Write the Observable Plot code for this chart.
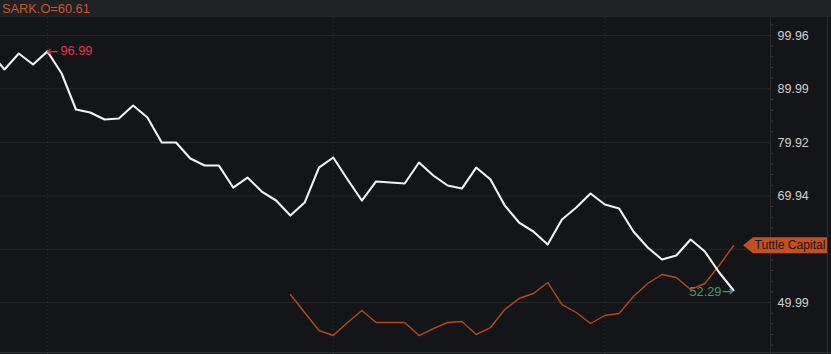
<!DOCTYPE html>
<html>
<head>
<meta charset="utf-8">
<script src="https://cdn.jsdelivr.net/npm/d3@7"></script>
<script src="https://cdn.jsdelivr.net/npm/@observablehq/plot@0.6"></script>
<style>
  html, body { margin: 0; padding: 0; background: #141519; width: 831px; height: 354px; overflow: hidden; }
  #wrap { position: relative; width: 831px; height: 354px; font-family: "Liberation Sans", Arial, sans-serif; }
  #head { height: 16px; background: #202125; border-bottom: 1px solid #26282c; color: #c8572a; font-size: 12.8px; line-height: 17px; padding-left: 2px; white-space: nowrap; }
  #chart svg { display: block; }
</style>
</head>
<body>
<div id="wrap">
  <div id="head"></div>
  <div id="chart"></div>
</div>
<script>
// ---- data ----
const seriesMain = "ARK";
const seriesComp = "Tuttle Capital";
const compTicker = "SARK.O";
// ARK values, one per trading day, first value is the day just before the visible window
const arkValues = [96.8, 93.60, 96.59, 94.53, 96.99, 92.85, 86.11, 85.55, 84.24, 84.43, 86.86,
  84.61, 79.93, 79.93, 76.93, 75.62, 75.62, 71.51, 73.38, 70.76, 69.08,
  66.27, 68.70, 75.25, 77.13, 73.01, 69.08, 72.64, 72.45, 72.26, 76.19,
  73.76, 71.89, 71.32, 75.25, 73.01, 68.14, 64.96, 63.28, 60.84, 65.52,
  67.77, 70.39, 68.33, 67.58, 63.28, 60.28, 58.04, 58.78, 61.78, 59.53,
  55.60, 52.29];
// Tuttle Capital (SARK) values, starting at day index 20
const sarkStartDay = 20;
const sarkValues = [51.49, 48.12, 44.75, 43.81, 46.25, 48.49, 46.25, 46.25, 46.25, 43.81,
  45.12, 46.25, 46.43, 44.00, 45.31, 48.68, 50.74, 51.68, 53.74, 49.61,
  48.12, 46.06, 47.56, 47.93, 51.11, 53.55, 55.23, 54.67, 52.42, 53.55,
  56.91, 60.61];
const sarkLast = 60.61;
const yTickValues = [99.96, 89.99, 79.92, 69.94, 49.99];
const yGridValues = [99.96, 89.99, 79.92, 69.94, 59.96, 49.99];
const monthStartDays = [3, 23, 42];
const yDomain = [40.26, 103.33];
const xDomain = [-0.28, 53.59];

// ---- build tables ----
const ark = arkValues.map((v, k) => ({day: k - 1, value: v}));
const sark = sarkValues.map((v, k) => ({day: sarkStartDay + k, value: v}));
const peak = ark.filter(d => d.day >= 0).reduce((a, b) => (b.value > a.value ? b : a));
const last = ark[ark.length - 1];
const minorTicks = [];
for (let i = 0; i < yGridValues.length - 1; i++) {
  const a = yGridValues[i], b = yGridValues[i + 1];
  for (let j = 1; j < 5; j++) minorTicks.push(a + (b - a) * j / 5);
}
minorTicks.push(yGridValues[0] + (yGridValues[0] - yGridValues[1]) / 5);
for (let j = 1; j < 5; j++) minorTicks.push(yGridValues[5] - (yGridValues[4] - yGridValues[5]) * j / 5);

document.getElementById("head").textContent = compTicker + "=" + sarkLast.toFixed(2);

const W = 831, H = 337, MR = 61;
const orange = "#b9461d";
const FONT = "Liberation Sans, Arial, sans-serif";
const ARROWFONT = "DejaVu Sans, sans-serif";

function decorations(index, scales, values, dimensions) {
  const ns = "http://www.w3.org/2000/svg";
  const g = document.createElementNS(ns, "g");
  const w = (dimensions && dimensions.width) || W, h = (dimensions && dimensions.height) || H;
  const mr = (dimensions && dimensions.marginRight != null) ? dimensions.marginRight : MR;
  const ax = w - mr;
  const add = (tag, attrs, text) => {
    const el = document.createElementNS(ns, tag);
    for (const k in attrs) el.setAttribute(k, attrs[k]);
    if (text != null) el.textContent = text;
    g.appendChild(el);
    return el;
  };
  add("line", {x1: ax + 0.5, x2: ax + 0.5, y1: 0, y2: h, stroke: "#2b2d31"});
  add("line", {x1: w - 3.5, x2: w - 3.5, y1: 0, y2: h, stroke: "#2b2d31"});
  add("line", {x1: 0, x2: w, y1: h - 1.5, y2: h - 1.5, stroke: "#2b2d31"});
  // comparison tag
  const y = scales && scales.y ? scales.y(sarkLast) : 228;
  const tip = ax - 27, left = ax - 17, right = w - 4;
  add("path", {d: `M${tip},${y}L${left},${y - 8}H${right}V${y + 8}H${left}Z`, fill: "#c2511f"});
  add("text", {x: left + 1.5, y: y, dy: "0.35em", fill: "#16171a", "font-size": 12,
    "text-anchor": "start", "font-family": FONT, textLength: 71, lengthAdjust: "spacingAndGlyphs"}, seriesComp);
  return g;
}

const plot = Plot.plot({
  width: W,
  height: H,
  marginLeft: 0,
  marginRight: MR,
  marginTop: 0,
  marginBottom: 0,
  style: {background: "transparent", fontFamily: FONT, fontSize: "12px", color: "#cfcfcf"},
  x: {domain: xDomain, axis: null},
  y: {domain: yDomain, axis: null},
  marks: [
    Plot.gridY(yGridValues, {stroke: "#26282c", strokeOpacity: 1}),
    Plot.ruleX(monthStartDays, {stroke: "#2c2e33", strokeDasharray: "1.5,2.5"}),
    Plot.axisY({anchor: "right", ticks: yTickValues, tickSize: 0, tickPadding: 7, tickFormat: d => d.toFixed(2),
      fill: "#cfcfcf", fontSize: 12.5, label: null}),
    Plot.axisY({anchor: "right", ticks: minorTicks, tickSize: 2.5, tickFormat: () => "", stroke: "#3a3c40", label: null}),
    Plot.line(sark, {x: "day", y: "value", stroke: orange, strokeWidth: 1.4, clip: true}),
    Plot.line(ark, {x: "day", y: "value", stroke: "#f2f2f2", strokeWidth: 2.1, clip: true}),
    Plot.text([peak], {x: "day", y: "value", text: () => "\u2190", textAnchor: "start",
      fill: "#e0354c", fontSize: 14, fontFamily: ARROWFONT, dx: -1}),
    Plot.text([peak], {x: "day", y: "value", text: d => d.value.toFixed(2), textAnchor: "start",
      fill: "#e0354c", fontSize: 12.8, dx: 13}),
    Plot.text([last], {x: "day", y: "value", text: () => "\u2192", textAnchor: "end",
      fill: "#3c9c68", fontSize: 14, fontFamily: ARROWFONT, dy: 1.5}),
    Plot.text([last], {x: "day", y: "value", text: d => d.value.toFixed(2), textAnchor: "end",
      fill: "#3c9c68", fontSize: 12.8, dx: -12, dy: 2}),
    decorations
  ]
});
document.getElementById("chart").appendChild(plot);
</script>
</body>
</html>
